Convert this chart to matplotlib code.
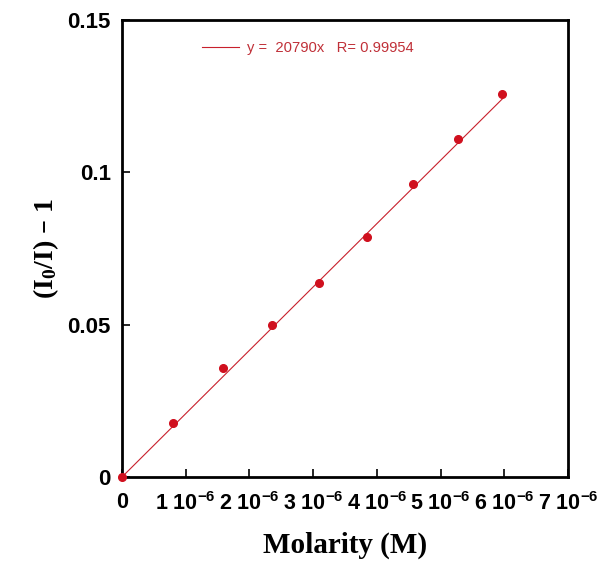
import matplotlib
matplotlib.use("Agg")
import matplotlib.pyplot as plt
import numpy as np

# data
molarity = [0.0, 0.80e-6, 1.59e-6, 2.35e-6, 3.09e-6, 3.85e-6, 4.57e-6, 5.27e-6, 5.97e-6]
ratio = [0.0, 0.0177, 0.0358, 0.0499, 0.0637, 0.0788, 0.0962, 0.1109, 0.1257]
slope = 20790
fit_label = "y =  20790x   R= 0.99954"
xticks = [0, 1e-6, 2e-6, 3e-6, 4e-6, 5e-6, 6e-6, 7e-6]
xticklabels = ["0"] + [f"{i} 10$^{{-6}}$" for i in range(1, 8)]
yticks = [0, 0.05, 0.1, 0.15]
yticklabels = ["0", "0.05", "0.1", "0.15"]

plt.rcParams['mathtext.default'] = 'regular'

fig = plt.figure(figsize=(6.03, 5.63), dpi=100)
ax = fig.add_axes([122/603, 1-477/563, 446/603, 457/563])

xfit = np.array([0.0, max(molarity)])
ax.plot(xfit, slope*xfit, color="#c8202c", lw=0.8, label=fit_label)
ax.plot(molarity, ratio, 'o', color="#d0101e", ms=5.5, mec="#d0101e", clip_on=False, zorder=3)

ax.set_xlim(0, 7e-6)
ax.set_ylim(0, 0.15)
ax.set_xticks(xticks)
ax.set_xticklabels(xticklabels, fontfamily="Liberation Sans", fontweight="bold", fontsize=15.5)
ax.set_yticks(yticks)
ax.set_yticklabels(yticklabels, fontfamily="Liberation Sans", fontweight="bold", fontsize=16)
ax.tick_params(axis='both', direction='in', length=6, width=1.2, top=False, right=False)
ax.tick_params(axis='x', pad=11)
ax.tick_params(axis='y', pad=8)
for s in ax.spines.values():
    s.set_linewidth(2.0)

ax.set_xlabel("Molarity (M)", fontfamily="Liberation Serif", fontweight="bold", fontsize=21, labelpad=12)
ax.set_ylabel("(I$_0$/I) – 1", fontfamily="Liberation Serif", fontweight="bold", fontsize=20, labelpad=5)

leg = ax.legend(loc='center left', bbox_to_anchor=(0.18, 0.939), frameon=False,
                borderpad=0, borderaxespad=0, handlelength=2.5, handletextpad=0.55,
                prop={'family': 'Liberation Sans', 'size': 10.6})
for t in leg.get_texts():
    t.set_color("#c03038")

fig.savefig("out.png", dpi=100)
